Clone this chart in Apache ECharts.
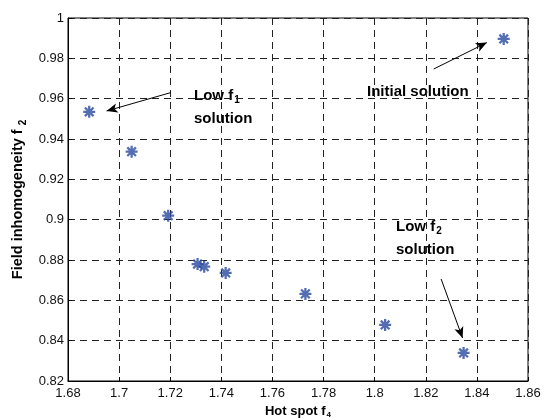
<!DOCTYPE html>
<html>
<head>
<meta charset="utf-8">
<script src="https://cdn.jsdelivr.net/npm/echarts@6/dist/echarts.min.js"></script>
<style>
html, body { margin: 0; padding: 0; background: #fff; }
#chart { width: 544px; height: 418px; }
</style>
</head>
<body>
<div id="chart"></div>
<script>
// values
var hotSpot = [1.6883, 1.7049, 1.7192, 1.7307, 1.7333, 1.7417, 1.7729, 1.8041, 1.8348, 1.8505];
var fieldInh = [0.9535, 0.9337, 0.9020, 0.8780, 0.8767, 0.8736, 0.8632, 0.8478, 0.8339, 0.9896];
var xTicks = [1.68, 1.7, 1.72, 1.74, 1.76, 1.78, 1.8, 1.82, 1.84, 1.86];
var yTicks = [0.82, 0.84, 0.86, 0.88, 0.9, 0.92, 0.94, 0.96, 0.98, 1];

// arrows: [from, to] in data units
var arrows = [
    [[1.7202, 0.9630], [1.6951, 0.9539]],
    [[1.8231, 0.9747], [1.8439, 0.9878]],
    [[1.8260, 0.8706], [1.8344, 0.8413]]
];

var font = '"Liberation Sans", Arial, Helvetica, sans-serif';
var subRich = {
    n: { fontFamily: font, fontWeight: 'bold', fontSize: 15, color: '#111' },
    s: { fontFamily: font, fontWeight: 'bold', fontSize: 10, color: '#111', padding: [9, 0, 0, 1] }
};

var points = [];
for (var i = 0; i < hotSpot.length; i++) {
    points.push([hotSpot[i], fieldInh[i]]);
}

var arrowData = [];
arrows.forEach(function (a) {
    arrowData.push([{ coord: a[0], symbol: 'none' }, { coord: a[1], symbol: 'arrow', symbolSize: [7, 11] }]);
});

function fmt(v) {
    return String(+v.toFixed(2));
}

var myChart = echarts.init(document.getElementById('chart'));
var option = {
    animation: false,
    grid: {
        left: 68, right: 16, top: 18, bottom: 37,
        outerBoundsMode: 'none', containLabel: false,
        show: true, borderColor: '#000', borderWidth: 1, backgroundColor: '#fff'
    },
    xAxis: {
        type: 'value',
        min: xTicks[0], max: xTicks[xTicks.length - 1], interval: 0.02,
        name: '{n|Hot spot f}{s|4}',
        nameLocation: 'middle', nameGap: 22,
        nameTextStyle: {
            rich: {
                n: { fontFamily: font, fontWeight: 'bold', fontSize: 13, color: '#000' },
                s: { fontFamily: font, fontWeight: 'bold', fontSize: 8, color: '#000', padding: [7, 0, 0, 1] }
            }
        },
        axisLine: { show: true, lineStyle: { color: '#000', width: 1 } },
        axisTick: { show: true, inside: true, length: 4, lineStyle: { color: '#000' } },
        axisLabel: { color: '#111', fontFamily: font, fontSize: 13, margin: 6, formatter: fmt },
        splitLine: { show: true, lineStyle: { color: '#222', type: [7, 5], width: 1 } }
    },
    yAxis: {
        type: 'value',
        min: yTicks[0], max: yTicks[yTicks.length - 1], interval: 0.02,
        name: '{n|Field inhomogeneity f}{s|2}',
        nameLocation: 'middle', nameGap: 40,
        nameTextStyle: {
            rich: {
                n: { fontFamily: font, fontWeight: 'bold', fontSize: 14.5, color: '#000' },
                s: { fontFamily: font, fontWeight: 'bold', fontSize: 10, color: '#000', padding: [9, 0, 0, 4] }
            }
        },
        axisLine: { show: true, lineStyle: { color: '#000', width: 1 } },
        axisTick: { show: true, inside: true, length: 4, lineStyle: { color: '#000' } },
        axisLabel: { color: '#111', fontFamily: font, fontSize: 13, margin: 4, formatter: fmt },
        splitLine: { show: true, lineStyle: { color: '#222', type: [7, 5], width: 1 } }
    },
    series: [{
        type: 'scatter',
        data: points,
        symbol: 'path://M0,-5L0,5M-5,0L5,0M-3.6,-3.6L3.6,3.6M-3.6,3.6L3.6,-3.6',
        symbolSize: 12,
        itemStyle: { color: 'rgba(0,0,0,0)', borderColor: '#2b4a9f', borderWidth: 2.3 },
        emphasis: { disabled: true },
        markLine: {
            silent: true,
            symbol: ['none', 'arrow'],
            label: { show: false },
            lineStyle: { color: '#000', width: 1, type: 'solid' },
            data: arrowData
        }
    }],
    graphic: [
        { type: 'text', left: 194, top: 84, style: { text: '{n|Low f}{s|1}\n{n|solution}', rich: subRich, lineHeight: 23 } },
        { type: 'text', left: 367, top: 84, style: { text: '{n|Initial solution}', rich: subRich } },
        { type: 'text', left: 396, top: 215, style: { text: '{n|Low f}{s|2}\n{n|solution}', rich: subRich, lineHeight: 23 } }
    ]
};
myChart.setOption(option);
</script>
</body>
</html>
